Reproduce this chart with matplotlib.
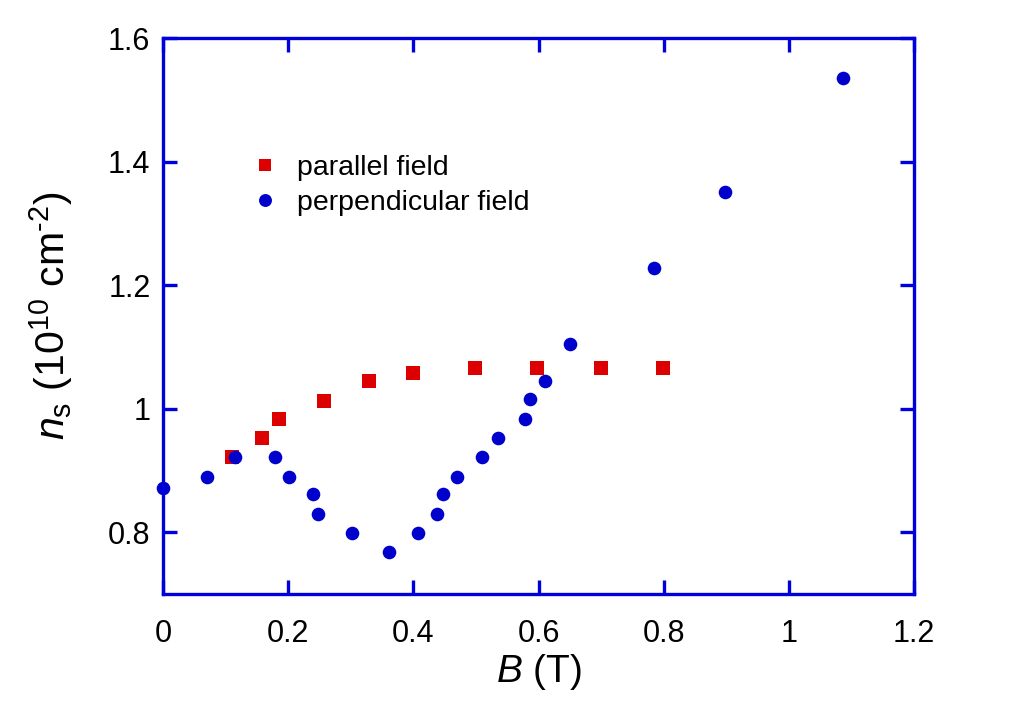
import matplotlib
matplotlib.use("Agg")
import matplotlib.pyplot as plt
from matplotlib.ticker import FormatStrFormatter

plt.rcParams['font.family'] = ['Liberation Sans', 'DejaVu Sans']
plt.rcParams['mathtext.fontset'] = 'custom'
plt.rcParams['mathtext.rm'] = 'Liberation Sans'
plt.rcParams['mathtext.it'] = 'Liberation Sans:italic'

# parallel field data
B_par = [0.110, 0.158, 0.185, 0.258, 0.329, 0.399, 0.499, 0.598, 0.699, 0.798]
ns_par = [0.922, 0.953, 0.984, 1.013, 1.045, 1.058, 1.066, 1.066, 1.066, 1.066]

# perpendicular field data
B_perp = [0.0, 0.070, 0.115, 0.179, 0.201, 0.239, 0.247, 0.302, 0.361, 0.408,
          0.437, 0.448, 0.469, 0.509, 0.535, 0.579, 0.587, 0.610, 0.651,
          0.785, 0.898, 1.087]
ns_perp = [0.872, 0.890, 0.922, 0.922, 0.890, 0.861, 0.830, 0.799, 0.768, 0.799,
           0.830, 0.861, 0.890, 0.922, 0.953, 0.984, 1.015, 1.045, 1.105,
           1.228, 1.351, 1.536]

xticks = [0, 0.2, 0.4, 0.6, 0.8, 1.0, 1.2]
yticks = [0.8, 1.0, 1.2, 1.4, 1.6]

axcol = '#0000dd'
red = '#dd0000'
blue = '#0000cc'

fig = plt.figure(figsize=(10.09, 7.19), dpi=100)
ax = fig.add_axes([0.1615, 0.174, 0.7445, 0.773])

ax.plot(B_par, ns_par, 's', color=red, markersize=9.6, markeredgewidth=0,
        label='parallel field', clip_on=False)
ax.plot(B_perp, ns_perp, 'o', color=blue, markersize=9.8, markeredgewidth=0,
        label='perpendicular field', clip_on=False)

ax.set_xlim(0, 1.2)
ax.set_ylim(0.7, 1.6)
ax.set_xticks(xticks)
ax.set_yticks(yticks)
ax.xaxis.set_major_formatter(FormatStrFormatter('%g'))
ax.yaxis.set_major_formatter(FormatStrFormatter('%g'))

for s in ax.spines.values():
    s.set_color(axcol)
    s.set_linewidth(2.4)
ax.tick_params(which='both', direction='in', top=True, right=True,
               color=axcol, width=2.4, length=10, labelsize=22)
ax.tick_params(axis='x', pad=18)
ax.tick_params(axis='y', pad=9)

ax.set_xlabel(r'$B$ (T)', fontsize=28, labelpad=2)
ax.set_ylabel(r'$n_{\mathrm{s}}$ (10$^{10}$ cm$^{\text{-2}}$)', fontsize=29.5,
              labelpad=24)

ax.legend(loc='upper left', bbox_to_anchor=(0.105, 0.81), frameon=False,
          fontsize=20.5, handlelength=0.8, handletextpad=0.75, labelspacing=0.3,
          borderaxespad=0, markerscale=0.95)

fig.savefig('out.png', dpi=100)
